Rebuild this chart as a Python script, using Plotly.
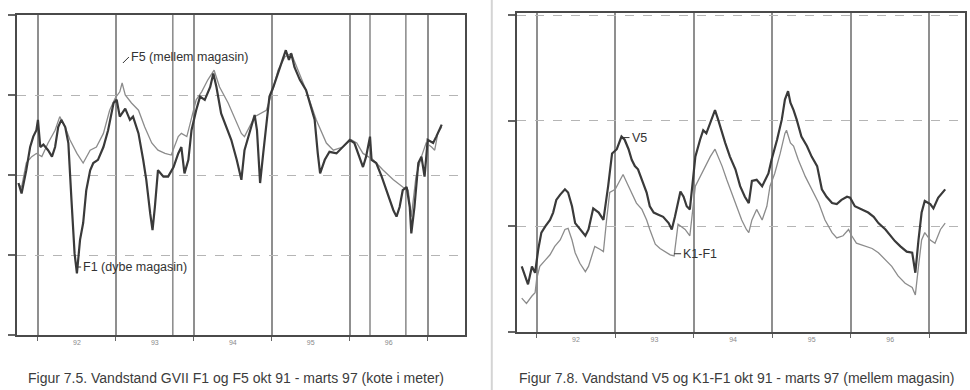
import plotly.graph_objects as go

# ---- Figur 7.5: GVII F1 (dybe magasin) and F5 (mellem magasin), kote i meter ----
f1_year = [1991.75, 1991.79, 1991.85, 1991.90, 1991.94, 1991.98, 1992.00, 1992.03, 1992.07, 1992.13,
           1992.18, 1992.22, 1992.26, 1992.30, 1992.35, 1992.39, 1992.43, 1992.47, 1992.50, 1992.54,
           1992.58, 1992.62, 1992.67, 1992.71, 1992.77, 1992.84, 1992.90, 1992.97, 1993.01, 1993.05,
           1993.12, 1993.18, 1993.22, 1993.29, 1993.35, 1993.39, 1993.44, 1993.47, 1993.50, 1993.54,
           1993.61, 1993.67, 1993.74, 1993.80, 1993.84, 1993.88, 1993.93, 1993.97, 1994.03, 1994.08,
           1994.14, 1994.21, 1994.25, 1994.29, 1994.35, 1994.42, 1994.48, 1994.55, 1994.61, 1994.65,
           1994.72, 1994.78, 1994.81, 1994.85, 1994.89, 1994.93, 1994.97, 1995.02, 1995.08, 1995.15,
           1995.18, 1995.22, 1995.25, 1995.29, 1995.36, 1995.44, 1995.51, 1995.55, 1995.59, 1995.62,
           1995.68, 1995.74, 1995.83, 1995.91, 1996.00, 1996.06, 1996.13, 1996.17, 1996.21, 1996.26,
           1996.28, 1996.34, 1996.41, 1996.47, 1996.51, 1996.56, 1996.60, 1996.64, 1996.68, 1996.73,
           1996.77, 1996.79, 1996.83, 1996.88, 1996.92, 1996.96, 1997.00, 1997.07, 1997.11, 1997.18]
f1_level = [11.90, 11.77, 12.06, 12.35, 12.48, 12.56, 12.69, 12.35, 12.38, 12.31,
            12.23, 12.35, 12.60, 12.69, 12.60, 12.40, 11.69, 11.02, 10.77, 11.19,
            11.40, 11.81, 12.06, 12.15, 12.19, 12.35, 12.56, 12.90, 12.94, 12.73,
            12.83, 12.69, 12.73, 12.52, 12.19, 11.94, 11.52, 11.31, 11.60, 12.06,
            11.98, 11.98, 12.10, 12.27, 12.35, 12.02, 12.19, 12.56, 12.81, 12.98,
            12.94, 13.10, 13.27, 13.10, 12.77, 12.60, 12.44, 12.19, 11.94, 12.31,
            12.56, 12.75, 12.56, 11.90, 12.27, 12.60, 12.98, 13.10, 13.27, 13.48,
            13.56, 13.44, 13.52, 13.35, 13.19, 13.06, 12.81, 12.69, 12.27, 12.02,
            12.19, 12.29, 12.27, 12.35, 12.44, 12.40, 12.19, 12.10, 12.23, 12.48,
            12.19, 12.15, 11.98, 11.81, 11.69, 11.56, 11.48, 11.60, 11.81, 11.85,
            11.60, 11.27, 11.60, 12.15, 12.23, 11.98, 12.44, 12.40, 12.48, 12.63]

f5_year = [1991.75, 1991.79, 1991.85, 1991.92, 1991.98, 1992.05, 1992.13, 1992.22, 1992.28, 1992.35,
           1992.41, 1992.50, 1992.58, 1992.67, 1992.75, 1992.84, 1992.92, 1992.99, 1993.05, 1993.08,
           1993.12, 1993.20, 1993.29, 1993.37, 1993.46, 1993.54, 1993.63, 1993.71, 1993.80, 1993.84,
           1993.91, 1993.97, 1994.03, 1994.10, 1994.18, 1994.26, 1994.33, 1994.44, 1994.53, 1994.61,
           1994.65, 1994.78, 1994.93, 1995.00, 1995.08, 1995.17, 1995.25, 1995.34, 1995.44, 1995.57,
           1995.70, 1995.79, 1995.91, 1996.02, 1996.09, 1996.17, 1996.30, 1996.43, 1996.56, 1996.68,
           1996.75, 1996.79, 1996.85, 1996.92, 1996.98, 1997.05, 1997.09, 1997.13, 1997.18]
f5_level = [11.88, 11.85, 12.15, 12.23, 12.27, 12.23, 12.40, 12.56, 12.73, 12.60,
            12.44, 12.27, 12.15, 12.31, 12.35, 12.52, 12.81, 12.96, 13.04, 13.15,
            13.00, 12.90, 12.81, 12.60, 12.40, 12.31, 12.27, 12.25, 12.48, 12.52,
            12.48, 12.73, 12.94, 13.04, 13.19, 13.31, 13.10, 12.90, 12.69, 12.52,
            12.48, 12.73, 12.81, 13.02, 13.31, 13.48, 13.52, 13.31, 13.06, 12.69,
            12.40, 12.31, 12.35, 12.44, 12.40, 12.27, 12.19, 12.06, 11.94, 11.85,
            11.81, 11.48, 11.98, 12.23, 12.40, 12.35, 12.31, 12.52, 12.60]

# ---- Figur 7.8: V5 and K1-F1 (mellem magasin) ----
v5_year = [1991.81, 1991.89, 1991.94, 1991.98, 1992.02, 1992.06, 1992.11, 1992.17, 1992.21, 1992.25,
           1992.30, 1992.36, 1992.40, 1992.45, 1992.49, 1992.55, 1992.62, 1992.66, 1992.72, 1992.79,
           1992.85, 1992.91, 1992.96, 1993.02, 1993.08, 1993.12, 1993.17, 1993.21, 1993.25, 1993.29,
           1993.34, 1993.40, 1993.44, 1993.49, 1993.55, 1993.61, 1993.68, 1993.72, 1993.76, 1993.83,
           1993.87, 1993.91, 1993.95, 1994.02, 1994.08, 1994.12, 1994.16, 1994.21, 1994.27, 1994.31,
           1994.36, 1994.40, 1994.46, 1994.53, 1994.59, 1994.65, 1994.70, 1994.74, 1994.80, 1994.87,
           1994.95, 1994.99, 1995.06, 1995.12, 1995.16, 1995.20, 1995.23, 1995.27, 1995.31, 1995.37,
           1995.44, 1995.50, 1995.57, 1995.63, 1995.69, 1995.76, 1995.82, 1995.88, 1995.95, 1995.99,
           1996.05, 1996.14, 1996.22, 1996.29, 1996.35, 1996.44, 1996.50, 1996.56, 1996.63, 1996.71,
           1996.78, 1996.82, 1996.86, 1996.90, 1996.94, 1997.01, 1997.05, 1997.11, 1997.20]
v5_level = [11.62, 11.45, 11.62, 11.56, 11.78, 11.94, 12.00, 12.06, 12.13, 12.25,
            12.30, 12.35, 12.32, 12.19, 12.03, 11.97, 11.91, 11.97, 12.17, 12.13,
            12.06, 12.38, 12.69, 12.73, 12.85, 12.82, 12.73, 12.63, 12.57, 12.54,
            12.44, 12.32, 12.19, 12.13, 12.11, 12.09, 12.03, 11.97, 12.09, 12.33,
            12.28, 12.19, 12.16, 12.66, 12.82, 12.91, 12.88, 12.98, 13.10, 13.01,
            12.88, 12.79, 12.66, 12.54, 12.38, 12.28, 12.22, 12.43, 12.44, 12.38,
            12.50, 12.63, 12.82, 13.01, 13.20, 13.28, 13.17, 13.10, 13.01, 12.85,
            12.76, 12.66, 12.57, 12.35, 12.28, 12.22, 12.21, 12.25, 12.28, 12.27,
            12.19, 12.16, 12.13, 12.09, 12.03, 11.97, 11.91, 11.86, 11.81, 11.76,
            11.75, 11.56, 11.87, 12.13, 12.24, 12.21, 12.17, 12.27, 12.35]

k1f1_year = [1991.81, 1991.87, 1991.94, 1991.98, 1992.00, 1992.04, 1992.11, 1992.17, 1992.23, 1992.30,
             1992.36, 1992.40, 1992.45, 1992.49, 1992.55, 1992.62, 1992.66, 1992.70, 1992.74, 1992.81,
             1992.85, 1992.89, 1992.93, 1993.00, 1993.06, 1993.10, 1993.15, 1993.21, 1993.27, 1993.34,
             1993.40, 1993.44, 1993.51, 1993.57, 1993.63, 1993.70, 1993.75, 1993.80, 1993.89, 1993.95,
             1994.02, 1994.08, 1994.14, 1994.21, 1994.27, 1994.31, 1994.36, 1994.42, 1994.48, 1994.55,
             1994.61, 1994.67, 1994.70, 1994.74, 1994.80, 1994.87, 1994.93, 1994.97, 1995.03, 1995.10,
             1995.16, 1995.18, 1995.23, 1995.27, 1995.33, 1995.42, 1995.50, 1995.59, 1995.67, 1995.76,
             1995.82, 1995.90, 1995.97, 1996.01, 1996.07, 1996.18, 1996.27, 1996.35, 1996.44, 1996.52,
             1996.60, 1996.69, 1996.78, 1996.82, 1996.86, 1996.90, 1996.94, 1997.01, 1997.07, 1997.14,
             1997.20]
k1f1_level = [11.32, 11.27, 11.34, 11.37, 11.50, 11.62, 11.68, 11.73, 11.81, 11.87,
              11.97, 11.98, 11.87, 11.75, 11.65, 11.57, 11.62, 11.72, 11.81, 11.78,
              11.76, 12.06, 12.32, 12.35, 12.44, 12.49, 12.41, 12.32, 12.22, 12.16,
              12.06, 11.97, 11.83, 11.79, 11.76, 11.73, 11.72, 12.02, 11.97, 11.91,
              12.38, 12.47, 12.57, 12.66, 12.73, 12.66, 12.57, 12.44, 12.32, 12.19,
              12.06, 11.97, 11.94, 12.06, 12.16, 12.06, 12.19, 12.38, 12.50, 12.69,
              12.88, 12.91, 12.79, 12.76, 12.63, 12.47, 12.35, 12.22, 12.06, 11.94,
              11.89, 11.91, 11.97, 11.91, 11.84, 11.81, 11.79, 11.75, 11.68, 11.62,
              11.53, 11.46, 11.42, 11.35, 11.62, 11.87, 11.94, 11.87, 11.84, 11.97,
              12.03]

# axis ticks: year boundaries (grid), mid-year labels, level ticks
year_lines = [1992, 1993, 1994, 1995, 1996, 1997]
year_label_pos = [1992.5, 1993.5, 1994.5, 1995.5, 1996.5]
year_labels = ["92", "93", "94", "95", "96"]
left_levels = [10, 11, 12, 13, 14]
right_levels = [11, 12, 13, 14]
extra_lines_left = [1993.73, 1996.26, 1996.72]

caption_left = "Figur 7.5. Vandstand GVII F1 og F5 okt 91 - marts 97 (kote i meter)"
caption_right = "Figur 7.8. Vandstand V5 og K1-F1 okt 91 - marts 97 (mellem magasin)"

DARK = "#3a3a3a"
LIGHT = "#8c8c8c"
FONT = "Liberation Sans, Arial, sans-serif"

fig = go.Figure()

fig.add_trace(go.Scatter(x=f5_year, y=f5_level, mode="lines", xaxis="x", yaxis="y",
                         line=dict(color=LIGHT, width=1.3), showlegend=False))
fig.add_trace(go.Scatter(x=f1_year, y=f1_level, mode="lines", xaxis="x", yaxis="y",
                         line=dict(color=DARK, width=2.2), showlegend=False))
fig.add_trace(go.Scatter(x=k1f1_year, y=k1f1_level, mode="lines", xaxis="x2", yaxis="y2",
                         line=dict(color=LIGHT, width=1.3), showlegend=False))
fig.add_trace(go.Scatter(x=v5_year, y=v5_level, mode="lines", xaxis="x2", yaxis="y2",
                         line=dict(color=DARK, width=2.2), showlegend=False))

xcommon = dict(
    tickmode="array", tickvals=year_label_pos, ticktext=year_labels,
    tickfont=dict(size=7, color="#8a8a8a", family=FONT), ticks="",
    showgrid=False, zeroline=False,
    showline=True, linecolor="#4a4a4a", linewidth=2, mirror=True,
    minor=dict(tickmode="array", tickvals=year_lines, showgrid=True, gridcolor="#8f8f8f",
               gridwidth=1.6, ticks="outside", ticklen=4, tickcolor="#666"),
)
ycommon = dict(
    tickmode="array", showticklabels=False, ticks="outside", ticklen=7,
    tickcolor="#666", tickwidth=1.5,
    showgrid=True, gridcolor="#b5b5b5", gridwidth=1.2, griddash="dash", zeroline=False,
    showline=True, linecolor="#4a4a4a", linewidth=2, mirror=True,
)

fig.update_layout(
    width=970, height=390,
    margin=dict(l=0, r=0, t=0, b=0),
    paper_bgcolor="white", plot_bgcolor="white",
    font=dict(family=FONT, color="#444"),
    xaxis=dict(domain=[0.0175, 0.479], range=[1991.731, 1997.474], anchor="y", **xcommon),
    yaxis=dict(domain=[0.141, 0.9615], range=[10, 14], tickvals=left_levels, anchor="x", **ycommon),
    xaxis2=dict(domain=[0.533, 0.995], range=[1991.75, 1997.454], anchor="y2", **xcommon),
    yaxis2=dict(domain=[0.149, 0.9667], range=[11, 14.02], tickvals=right_levels, anchor="x2", **ycommon),
)

# additional vertical lines in the left panel
for xv in extra_lines_left:
    fig.add_shape(type="line", xref="x", yref="y domain", x0=xv, x1=xv, y0=0, y1=1,
                  line=dict(color="#8f8f8f", width=1.6), layer="below")

# separator between the two figures
fig.add_shape(type="line", xref="paper", yref="paper", x0=0.507, x1=0.507, y0=0, y1=1,
              line=dict(color="#d4d4d4", width=2))

lab = dict(size=12.5, color="#333", family=FONT)
arrow = dict(showarrow=True, arrowhead=0, arrowwidth=1, arrowcolor="#333",
             xanchor="left", yanchor="middle", font=lab)

fig.add_annotation(x=1993.09, y=13.40, xref="x", yref="y", ax=6, ay=-6,
                   text="F5 (mellem magasin)", **arrow)
fig.add_annotation(x=1992.49, y=10.85, xref="x", yref="y", ax=5, ay=0,
                   text="F1 (dybe magasin)", **arrow)
fig.add_annotation(x=1993.08, y=12.84, xref="x2", yref="y2", ax=8, ay=0,
                   text="V5", **arrow)
fig.add_annotation(x=1993.75, y=11.74, xref="x2", yref="y2", ax=7, ay=0,
                   text="K1-F1", **arrow)

cap = dict(size=14, color="#3c3c3c", family=FONT)
fig.add_annotation(x=0.243, y=0.031, xref="paper", yref="paper", text=caption_left,
                   showarrow=False, xanchor="center", yanchor="middle", font=cap)
fig.add_annotation(x=0.760, y=0.031, xref="paper", yref="paper", text=caption_right,
                   showarrow=False, xanchor="center", yanchor="middle", font=cap)

fig.write_html("out.html")
